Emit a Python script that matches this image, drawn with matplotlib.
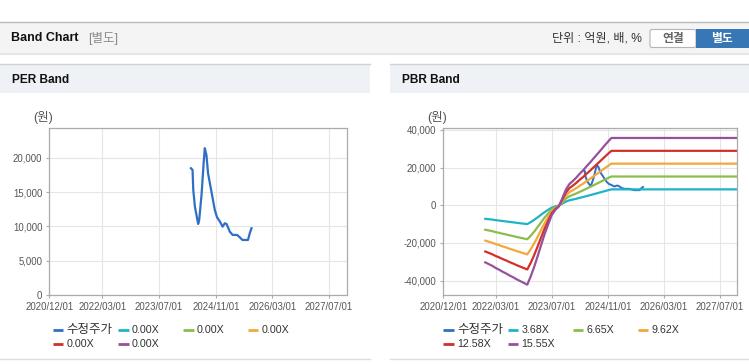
import matplotlib
matplotlib.use("Agg")
import matplotlib.pyplot as plt
import matplotlib.ticker as mticker
from matplotlib.patches import Rectangle, FancyBboxPatch
import pandas as pd

plt.rcParams['font.family'] = ['Liberation Sans', 'Noto Sans CJK KR', 'DejaVu Sans']

# adjusted share price (수정주가)
price_dates = ['2024-03-31', '2024-04-14', '2024-04-20', '2024-05-04', '2024-06-01',
               '2024-06-10', '2024-06-30', '2024-07-19', '2024-07-28', '2024-08-11',
               '2024-08-25', '2024-09-23', '2024-10-22', '2024-11-10', '2024-12-05',
               '2024-12-28', '2025-01-16', '2025-01-31', '2025-02-28', '2025-03-24',
               '2025-05-01', '2025-05-24', '2025-06-16', '2025-08-03', '2025-08-18',
               '2025-09-02']
price_values = [18460, 18210, 15350, 12880, 10360, 10950, 14580, 19420, 21370, 20390,
                17730, 15060, 12400, 11340, 10700, 9970, 10470, 10360, 9240, 8770,
                8770, 8430, 8040, 8040, 9010, 9740]

# book value per share used for the PBR band
band_dates = ['2021-12-01', '2022-01-01', '2022-02-01', '2022-03-01', '2022-04-01',
              '2022-05-01', '2022-06-01', '2022-07-01', '2022-08-01', '2022-09-01',
              '2022-10-01', '2022-11-01', '2022-12-01', '2023-01-01', '2023-02-01',
              '2023-03-01', '2023-04-01', '2023-05-01', '2023-06-01', '2023-07-01',
              '2023-08-01', '2023-09-01', '2023-10-01', '2023-11-01', '2023-12-01',
              '2024-01-01', '2024-02-01', '2024-03-01', '2024-04-01', '2024-05-01',
              '2024-06-01', '2024-07-01', '2024-08-01', '2024-09-01', '2024-10-01',
              '2024-11-01', '2024-12-01', '2025-12-01', '2026-12-01', '2027-12-01']
bps_values = [-1950, -2010, -2070, -2140, -2200, -2270, -2330, -2400, -2460, -2530,
              -2590, -2650, -2710, -2420, -2080, -1740, -1350, -980, -650, -340,
              -160, -40, 230, 530, 720, 830, 950, 1080, 1200, 1340,
              1470, 1610, 1750, 1890, 2030, 2170, 2300, 2300, 2300, 2300]
pbr_multiples = [3.68, 6.65, 9.62, 12.58, 15.55]
per_labels = ['수정주가', '0.00X', '0.00X', '0.00X', '0.00X', '0.00X']
pbr_labels = ['수정주가'] + ['%.2fX' % m for m in pbr_multiples]

x_ticks = ['2020-12-01', '2022-03-01', '2023-07-01', '2024-11-01', '2026-03-01', '2027-07-01']
x_range = ['2020-12-01', '2027-12-01']
per_yticks = [0, 5000, 10000, 15000, 20000]
pbr_yticks = [-40000, -20000, 0, 20000, 40000]

colors = ['#2f6fc6', '#1fb3c8', '#8cbd4c', '#f2a93b', '#d2302a', '#97519c']

W, H = 749, 364
fig = plt.figure(figsize=(W / 100, H / 100), dpi=100)
fig.patch.set_facecolor('white')

# page furniture drawn in pixel coordinates
bg = fig.add_axes([0, 0, 1, 1], zorder=0)
bg.set_xlim(0, W)
bg.set_ylim(H, 0)
bg.axis('off')

bg.add_patch(Rectangle((0, 22), W, 30, facecolor='#f4f4f4', edgecolor='none'))
bg.plot([0, W], [22, 22], color='#b8b8b8', lw=1)
bg.plot([0, W], [52.5, 52.5], color='#c8c8c8', lw=1)
bg.plot([0, W], [54, 54], color='#e6e6e6', lw=1.5)
bg.text(11, 38, 'Band Chart', fontsize=9, fontweight='bold', color='#111', va='center')
bg.text(88, 38.5, '[별도]', fontsize=9, color='#8a8a8a', va='center')
bg.text(552, 38.5, '단위 : 억원, 배, %', fontsize=8.7, color='#333', va='center')
bg.add_patch(FancyBboxPatch((650, 29.5), 46, 18, boxstyle='round,pad=0,rounding_size=2',
                            facecolor='white', edgecolor='#b5b5b5', lw=0.8))
bg.text(673, 39, '연결', fontsize=8.5, fontweight='bold', color='#666', ha='center', va='center')
bg.add_patch(Rectangle((696, 29), 53, 19, facecolor='#3877b6', edgecolor='none'))
bg.text(722, 39, '별도', fontsize=8.5, fontweight='bold', color='white', ha='center', va='center')

for x0, x1, title in [(0, 370, 'PER Band'), (390, 749, 'PBR Band')]:
    bg.add_patch(Rectangle((x0, 64), x1 - x0, 29, facecolor='#eef1f6', edgecolor='none'))
    bg.plot([x0, x1], [63.5, 63.5], color='#d2d2d2', lw=1)
    bg.plot([x0, x1], [358.5, 358.5], color='#dcdcdc', lw=1)
    bg.text(x0 + 11.5, 80, title, fontsize=8.6, fontweight='bold', color='#111', va='center')


def legend(x_lines, labels):
    for i, lab in enumerate(labels):
        lx = x_lines[i % 4]
        ly = 330 if i < 4 else 344
        size = 7.7 if lab.isascii() else 9.0
        bg.plot([lx, lx + 10.5], [ly, ly], color=colors[i], lw=2, solid_capstyle='butt')
        bg.text(lx + 14, ly, lab, fontsize=size, color='#333', va='center')


legend([52.7, 118, 183, 247.5], per_labels)
legend([443.3, 507.7, 572.7, 637.7], pbr_labels)

pd_price = pd.to_datetime(price_dates)
pd_band = pd.to_datetime(band_dates)


def style(ax, yticks, ylim):
    ax.set_facecolor('white')
    ax.set_xlim(pd.to_datetime(x_range))
    ax.set_ylim(ylim)
    ax.set_xticks(pd.to_datetime(x_ticks))
    ax.set_xticklabels([t.replace('-', '/') for t in x_ticks])
    ax.set_yticks(yticks)
    ax.yaxis.set_major_formatter(mticker.FuncFormatter(lambda v, p: '{:,.0f}'.format(v)))
    ax.grid(True, color='#e6e6e6', lw=0.8)
    ax.set_axisbelow(True)
    for s in ax.spines.values():
        s.set_color('#ababab')
        s.set_linewidth(0.9)
    ax.tick_params(length=2.5, width=0.8, color='#ababab', labelcolor='#555',
                   labelsize=6.9, pad=2.5)


ax1 = fig.add_axes([49.3 / W, 1 - 295.3 / H, 297.7 / W, 167 / H], zorder=2)
style(ax1, per_yticks, (0, 24260))
ax1.plot(pd_price, price_values, color=colors[0], lw=1.6)
bg.text(43, 117, '(원)', fontsize=9, color='#555', ha='center', va='center')

ax2 = fig.add_axes([443.3 / W, 1 - 295.3 / H, 294 / W, 167 / H], zorder=2)
style(ax2, pbr_yticks, (-47800, 40900))
ax2.plot(pd_price, price_values, color=colors[0], lw=1.4)
for i, m in enumerate(pbr_multiples):
    ax2.plot(pd_band, [b * m for b in bps_values], color=colors[i + 1], lw=1.6)
bg.text(437.5, 117, '(원)', fontsize=9, color='#555', ha='center', va='center')

fig.savefig('out.png', dpi=100)
